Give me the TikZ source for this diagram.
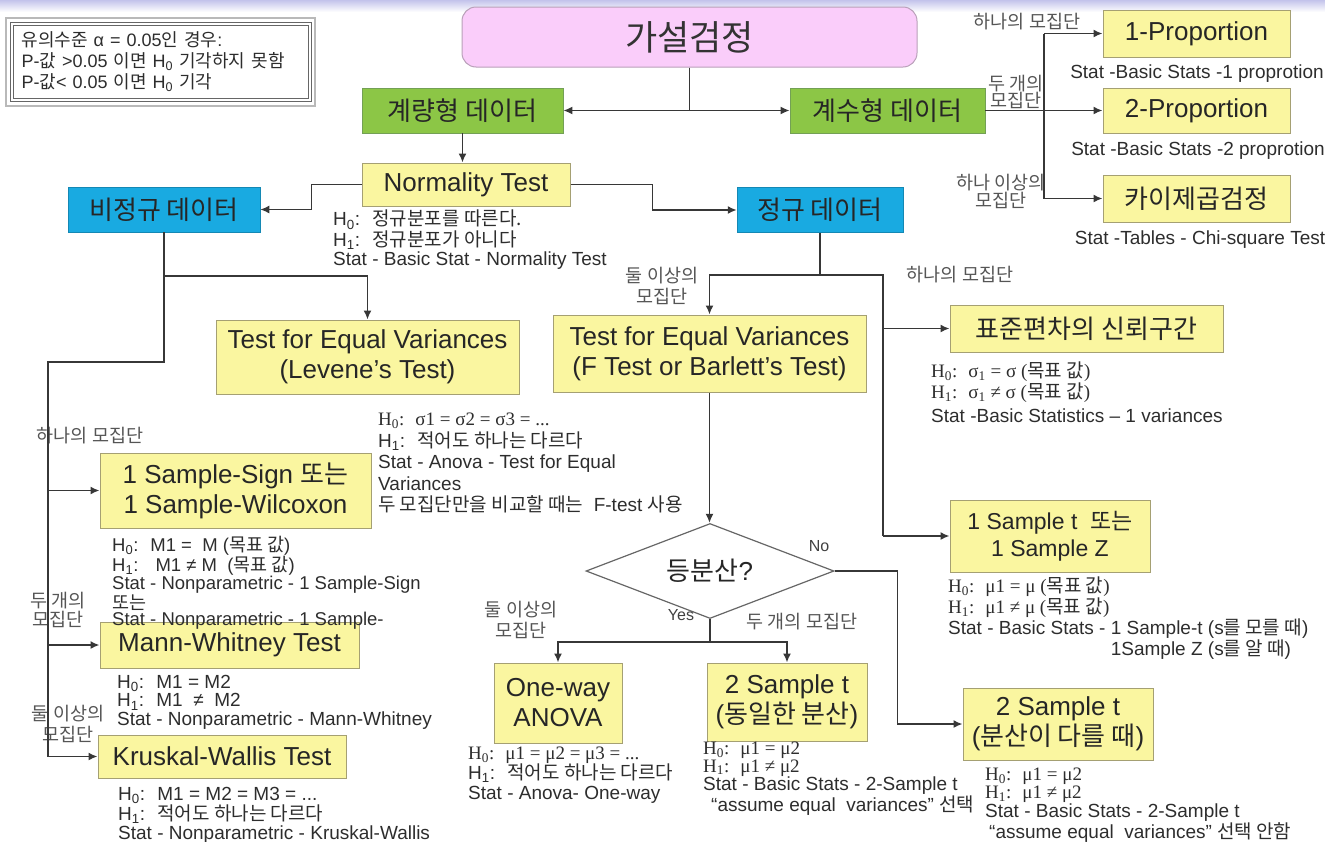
\documentclass[tikz,border=0pt]{standalone}
\usepackage{fontspec}
\setmainfont{Liberation Sans}
\newfontfamily\krfont{Noto Sans CJK KR}
\newfontfamily\serifann{Liberation Serif}
\usetikzlibrary{arrows.meta,shapes.geometric,calc}

\newcommand{\kr}[1]{{\krfont #1}}
\newcommand{\hnull}{H\textsubscript{0}}
\newcommand{\halt}{H\textsubscript{1}}

\definecolor{boxyellow}{RGB}{250,246,160}
\definecolor{boxline}{RGB}{165,160,115}
\definecolor{datagreen}{RGB}{140,198,70}
\definecolor{greenline}{RGB}{115,160,85}
\definecolor{datablue}{RGB}{25,170,225}
\definecolor{rootpink}{RGB}{250,205,250}
\definecolor{rootline}{RGB}{185,160,185}
\definecolor{anncol}{RGB}{45,45,45}
\definecolor{labcol}{RGB}{85,85,85}
\definecolor{wirecol}{RGB}{55,55,55}
\definecolor{stripcol}{RGB}{195,195,235}

\tikzset{
  box/.style={draw=boxline, line width=1pt, fill=boxyellow, text=black!85,
    align=center, inner sep=0pt, font=\fontsize{26}{30}\selectfont},
  gbox/.style={draw=greenline, line width=.8pt, fill=datagreen, text=black!85,
    inner sep=0pt, minimum height=45pt, font=\krfont\fontsize{26}{30}\selectfont},
  bbox/.style={draw=datablue!80!black, line width=.5pt, fill=datablue, text=black!85,
    inner sep=0pt, minimum height=45pt, font=\krfont\fontsize{26}{30}\selectfont},
  rootbox/.style={draw=rootline, line width=1pt, fill=rootpink, rounded corners=14pt,
    text=black!80, inner sep=0pt, minimum width=455pt, minimum height=60pt,
    font=\krfont\fontsize{35}{40}\selectfont},
  decision/.style={diamond, aspect=2.6, draw=gray!80!black, line width=1.2pt,
    fill=white, minimum width=248pt, minimum height=95pt, inner sep=0pt,
    text=black!85, font=\fontsize{26}{30}\selectfont},
  legend/.style={draw=gray!80!black, line width=1pt, double=white, double distance=2pt,
    fill=white, minimum height=76pt, text width=278pt, inner xsep=10pt,
    align=left, text=anncol, font=\fontsize{18}{21}\selectfont},
  ann/.style={anchor=north west, align=left, inner sep=0pt, text=anncol,
    font=\fontsize{19}{#1}\selectfont},
  ann/.default=19,
  lab/.style={align=center, inner sep=0pt, text=labcol,
    font=\krfont\fontsize{18.5}{#1}\selectfont},
  lab/.default=20,
  yesno/.style={inner sep=0pt, text=black!75, font=\fontsize{16}{18}\selectfont},
  wire/.style={draw=wirecol, line width=1.6pt},
  arr/.style={wire, -{Latex[length=9pt,width=8pt]}}
}

\begin{document}
\begin{tikzpicture}[x=1pt, y=-1pt]
  \useasboundingbox (0,0) rectangle (1325,841);
  \fill[top color=stripcol, bottom color=white] (0,0) rectangle (1325,12);

  % significance level
  \draw[gray!55, line width=2.5pt] (6,18) rectangle (315,106);
  \node[legend] (sig) at (160.5,62)
    {\kr{유의수준} α = 0.05\kr{인 경우}:\\P-\kr{값} >0.05 \kr{이면} \hnull{} \kr{기각하지 못함}\\P-\kr{값}< 0.05 \kr{이면} \hnull{} \kr{기각}};

  % top levels
  \node[rootbox] (root) at (689.5,37) {가설검정};
  \node[gbox, minimum width=201pt] (metric) at (462.5,110.5) {계량형 데이터};
  \node[gbox, minimum width=195pt] (count) at (887.5,110.5) {계수형 데이터};
  \node[box, minimum width=208pt, minimum height=43pt] (ntest) at (466,184.5) {Normality Test};
  \node[bbox, minimum width=192pt] (nonnorm) at (164,209.5) {비정규 데이터};
  \node[bbox, minimum width=166pt] (norm) at (820,210) {정규 데이터};

  % proportions
  \node[box, minimum width=187pt, minimum height=47pt] (prop1) at (1196.5,33.5) {1-Proportion};
  \node[box, minimum width=187pt, minimum height=45pt] (prop2) at (1196.5,110.5) {2-Proportion};
  \node[box, minimum width=187pt, minimum height=47pt] (chisq) at (1196.5,198.5) {\kr{카이제곱검정}};

  % tests
  \node[box, minimum width=303pt, minimum height=74pt] (levene) at (367.5,357)
    {Test for Equal Variances\\(Levene’s Test)};
  \node[box, minimum width=313pt, minimum height=77pt] (fvar) at (709.5,353.5)
    {Test for Equal Variances\\(F Test or Barlett’s Test)};
  \node[box, minimum width=273pt, minimum height=47pt] (sdci) at (1086.5,328.5) {\kr{표준편차의 신뢰구간}};
  \node[box, minimum width=200pt, minimum height=72pt, font=\fontsize{23}{27}\selectfont] (onez)
    at (1050,536) {1 Sample t~ \kr{또는}\\1 Sample Z};
  \node[decision] (eqvar) at (710,571) {\kr{등분산}?};
  \node[box, minimum width=271pt, minimum height=75pt] (sign) at (235.5,490.5)
    {1 Sample-Sign \kr{또는}\\1 Sample-Wilcoxon};
  \node[box, minimum width=259pt, minimum height=46pt] (mann) at (229.5,645) {Mann-Whitney Test};
  \node[box, minimum width=248pt, minimum height=43pt] (krus) at (222,756.5) {Kruskal-Wallis Test};
  \node[box, minimum width=128pt, minimum height=80pt] (anova) at (558,703) {One-way\\ANOVA};
  \node[box, minimum width=160pt, minimum height=78pt] (twoeq) at (787,702) {2 Sample t\\(\kr{동일한 분산})};
  \node[box, minimum width=190pt, minimum height=72pt] (twoneq) at (1058,724) {2 Sample t\\(\kr{분산이 다를 때})};

  % notes
  \node[ann=19] (ntestnote) at (333,210)
    {\hnull:~ \kr{정규분포를 따른다.}\\\halt:~ \kr{정규분포가 아니다}\\Stat - Basic Stat - Normality Test};
  \node[ann, anchor=center] (prop1note) at (1197,74) {Stat -Basic Stats -1 proprotion};
  \node[ann, anchor=center] (prop2note) at (1198,151) {Stat -Basic Stats -2 proprotion};
  \node[ann, anchor=center] (chisqnote) at (1200,240) {Stat -Tables - Chi-square Test};
  \node[ann=21.5] (levnote) at (378,413)
    {{\serifann \hnull:~ σ1 = σ2 = σ3 = ...}\\\halt:~ \kr{적어도 하나는 다르다}\\Stat - Anova - Test for Equal\\Variances\\\kr{두 모집단만을 비교할 때는}~ F-test \kr{사용}};
  \node[ann=16] (sdcinote) at (931,362)
    {{\serifann \hnull:~ σ\textsubscript{1} = σ (\kr{목표 값})}\\{\serifann \halt:~ σ\textsubscript{1} ≠ σ (\kr{목표 값})}\\[5pt]Stat -Basic Statistics – 1 variances};
  \node[ann=17] (oneznote) at (948,577)
    {{\serifann \hnull:~ μ1 = μ (\kr{목표 값})}\\{\serifann \halt:~ μ1 ≠ μ (\kr{목표 값})}\\Stat - Basic Stats - 1 Sample-t (s\kr{를 모를 때})\\\hphantom{Stat - Basic Stats - }1Sample Z (s\kr{를 알 때})};
  \node[ann, font=\fontsize{18.5}{16.5}\selectfont] (signnote) at (112,536)
    {\hnull:~ M1 =~ M (\kr{목표 값})\\\halt:~~ M1 ≠ M~ (\kr{목표 값})\\Stat - Nonparametric - 1 Sample-Sign\\\kr{또는}\\Stat - Nonparametric - 1 Sample-};
  \node[ann=18.5] (mannnote) at (117,675)
    {\hnull:~ M1 = M2\\\halt:~ M1~ ≠~ M2\\Stat - Nonparametric - Mann-Whitney};
  \node[ann=18.5] (krusnote) at (118,787)
    {\hnull:~ M1 = M2 = M3 = ...\\\halt:~ \kr{적어도 하나는 다르다}\\Stat - Nonparametric - Kruskal-Wallis};
  \node[ann=20] (anovanote) at (468,747)
    {{\serifann \hnull:~ μ1 = μ2 = μ3 = ...}\\\halt:~ \kr{적어도 하나는 다르다}\\Stat - Anova- One-way};
  \node[ann=17.3] (twoeqnote) at (703,742)
    {{\serifann \hnull:~ μ1 = μ2}\\{\serifann \halt:~ μ1 ≠ μ2}\\Stat - Basic Stats - 2-Sample t\\\hspace*{8pt}“assume equal~ variances” \kr{선택}};
  \node[ann=17.7] (twoneqnote) at (985,768)
    {{\serifann \hnull:~ μ1 = μ2}\\{\serifann \halt:~ μ1 ≠ μ2}\\Stat - Basic Stats - 2-Sample t\\\hspace*{4pt}“assume equal~ variances” \kr{선택 안함}};

  % branch labels
  \node[lab] (lone) at (1027,22) {하나의 모집단};
  \node[lab=17] (ltwo) at (1016,92) {두 개의\\모집단};
  \node[lab=18] (lmore) at (1001,191) {하나 이상의\\모집단};
  \node[lab] (nlone) at (960,275) {하나의 모집단};
  \node[lab=21] (nlmore) at (662,286) {둘 이상의\\모집단};
  \node[lab] (plone) at (90,436) {하나의 모집단};
  \node[lab=19] (pltwo) at (58,610) {두 개의\\모집단};
  \node[lab=21] (plmore) at (68,724) {둘 이상의\\모집단};
  \node[yesno] (lno) at (819,546) {No};
  \node[yesno] (lyes) at (681,615) {Yes};
  \node[lab=21] (ylmore) at (521,620) {둘 이상의\\모집단};
  \node[lab] (yltwo) at (802,622) {두 개의 모집단};

  % connectors
  \draw[arr] (root.south) |- (metric.east);
  \draw[arr] (root.south) |- (count.west);
  \draw[arr] (metric.south) -- (metric.south |- ntest.north);
  \draw[arr] (ntest.west) -- ++(-50,0) |- (nonnorm.east);
  \draw[arr] (ntest.east) -- ++(82,0) |- (norm.west);

  \coordinate (cbus) at (1044,110.5);
  \draw[wire] (count.east) -- (cbus);
  \draw[wire] (cbus |- prop1.west) -- (cbus |- chisq.west);
  \foreach \n in {prop1, prop2, chisq}
    \draw[arr] (cbus |- \n.west) -- (\n.west);

  \coordinate (lbus) at (48,362);
  \draw[wire] (nonnorm.south) |- (lbus) -- (lbus |- krus.west);
  \draw[arr] ($(nonnorm.south)+(0,44)$) -| (levene.north);
  \foreach \n in {sign, mann, krus}
    \draw[arr] (lbus |- \n.west) -- (\n.west);

  \coordinate (nbus) at (820,275);
  \coordinate (rbus) at (883,275);
  \draw[wire] (norm.south) -- (nbus) -- (rbus) -- (rbus |- onez.west);
  \draw[arr] (nbus) -| (fvar.north);
  \foreach \n in {sdci, onez}
    \draw[arr] (rbus |- \n.west) -- (\n.west);

  \draw[arr] (fvar.south) -- (fvar.south |- eqvar.north);
  \draw[arr] (eqvar.east) -- ++(63,0) |- (twoneq.west);
  \coordinate (ybus) at (710,642);
  \draw[wire] (eqvar.south) -- (ybus);
  \foreach \n in {anova, twoeq}
    \draw[arr] (ybus) -| (\n.north);
\end{tikzpicture}
\end{document}
